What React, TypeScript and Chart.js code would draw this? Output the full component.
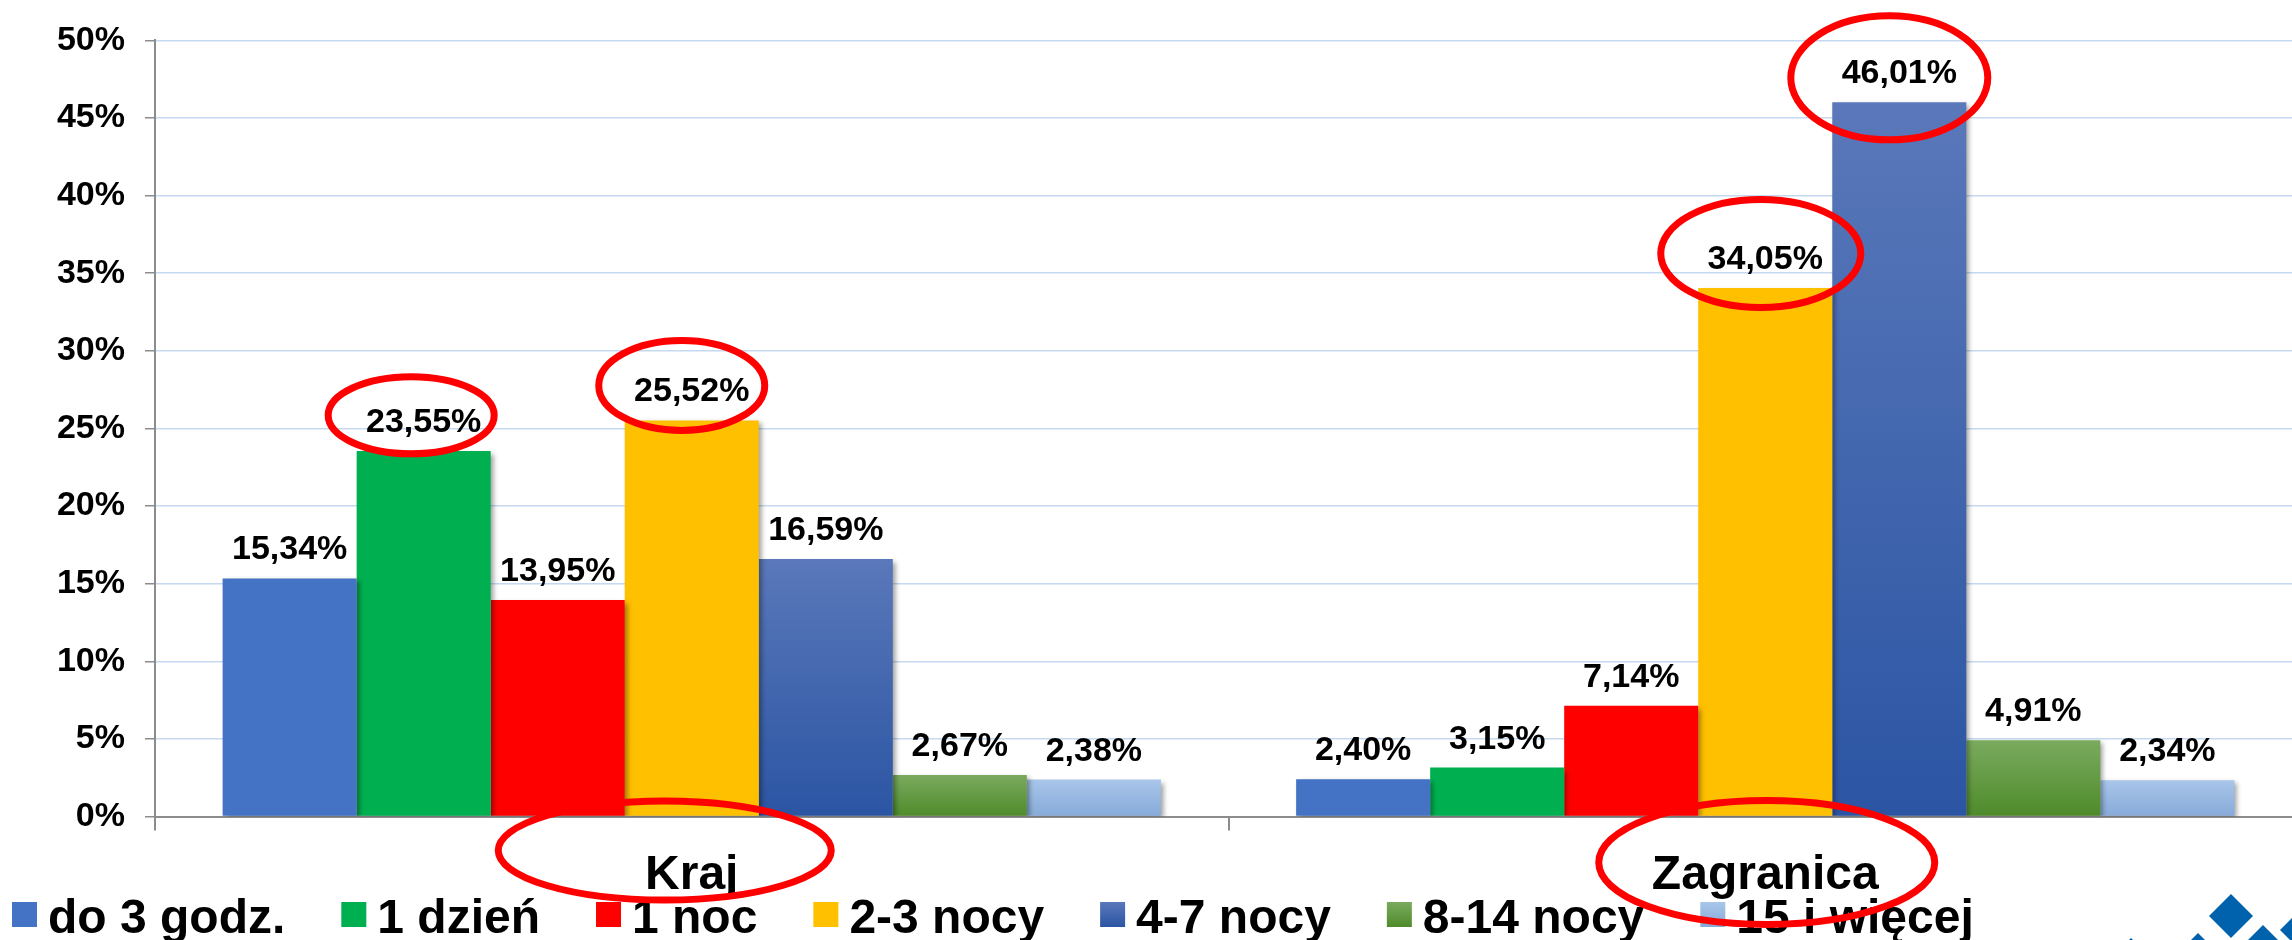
import React, { useEffect, useRef } from "react";
import { Chart, registerables } from "chart.js";

Chart.register(...registerables);

// ---------- data ----------
const categories = ["Kraj", "Zagranica"];
const seriesNames = ["do 3 godz.", "1 dzień", "1 noc", "2-3 nocy", "4-7 nocy", "8-14 nocy", "15 i więcej"];
const do3Godz = [15.34, 2.4];
const jedenDzien = [23.55, 3.15];
const jednaNoc = [13.95, 7.14];
const noce2do3 = [25.52, 34.05];
const noce4do7 = [16.59, 46.01];
const noce8do14 = [2.67, 4.91];
const wiecej15 = [2.38, 2.34];
const yTickValues = [0, 5, 10, 15, 20, 25, 30, 35, 40, 45, 50];

const seriesValues = [do3Godz, jedenDzien, jednaNoc, noce2do3, noce4do7, noce8do14, wiecej15];

// ---------- styles ----------
const FONT = '"Liberation Sans", Arial, Helvetica, sans-serif';
const seriesColors: [string, string][] = [
  ["#4472C4", "#4472C4"],
  ["#00B050", "#00B050"],
  ["#FF0000", "#FF0000"],
  ["#FFC000", "#FFC000"],
  ["#5A78BA", "#2B55A3"],
  ["#7AAA5E", "#4E8B2A"],
  ["#A9C6EA", "#86AAD9"],
];

// annotation ellipses (hand-drawn highlights)
const barEllipses = [
  { ds: 1, idx: 0, dx: -12.5, dy: -35.7, w: 173, h: 84 },
  { ds: 3, idx: 0, dx: -10, dy: -35, w: 173, h: 97 },
  { ds: 3, idx: 1, dx: -4.5, dy: -34.5, w: 207, h: 115 },
  { ds: 4, idx: 1, dx: -10, dy: -24.5, w: 204, h: 131 },
];
const catEllipses = [
  { cat: 0, dx: -27, dy: 34, w: 340, h: 106 },
  { cat: 1, dx: 1.5, dy: 46, w: 343, h: 131 },
];

const fmt = (v: number) => v.toFixed(2).replace(".", ",") + "%";

const makeBg = (top: string, bottom: string) => (c: any) => {
  if (top === bottom) return top;
  const chart = c.chart;
  const { chartArea, scales } = chart;
  if (!chartArea || !scales || !scales.y || c.raw === undefined) return bottom;
  const v = typeof c.raw === "number" ? c.raw : 0;
  const yT = scales.y.getPixelForValue(v);
  const yB = scales.y.getPixelForValue(0);
  if (!isFinite(yT) || !isFinite(yB) || yT === yB) return bottom;
  const g = chart.ctx.createLinearGradient(0, yT, 0, yB);
  g.addColorStop(0, top);
  g.addColorStop(1, bottom);
  return g;
};

const decorPlugin = {
  id: "decor",
  beforeDatasetsDraw(chart: any) {
    const ctx = chart.ctx;
    ctx.save();
    ctx.shadowColor = "rgba(0,0,0,0.38)";
    ctx.shadowBlur = 5;
    ctx.shadowOffsetX = 3;
    ctx.shadowOffsetY = 3;
  },
  afterDatasetsDraw(chart: any) {
    const ctx = chart.ctx;
    ctx.restore();
    ctx.save();
    ctx.font = `bold 34px ${FONT}`;
    ctx.fillStyle = "#000";
    ctx.textAlign = "center";
    ctx.textBaseline = "alphabetic";
    chart.data.datasets.forEach((ds: any, di: number) => {
      const meta = chart.getDatasetMeta(di);
      meta.data.forEach((bar: any, i: number) => {
        ctx.fillText(fmt(ds.data[i]), bar.x, bar.y - 19);
      });
    });
    ctx.restore();
  },
  afterDraw(chart: any) {
    const ctx = chart.ctx;
    // legend
    ctx.save();
    ctx.font = `bold 48px ${FONT}`;
    ctx.textAlign = "left";
    ctx.textBaseline = "alphabetic";
    let x = 12;
    const boxY = 902;
    chart.data.datasets.forEach((ds: any, di: number) => {
      const [top, bottom] = seriesColors[di];
      if (top === bottom) ctx.fillStyle = top;
      else {
        const g = ctx.createLinearGradient(0, boxY, 0, boxY + 25);
        g.addColorStop(0, top);
        g.addColorStop(1, bottom);
        ctx.fillStyle = g;
      }
      ctx.fillRect(x, boxY, 25, 25);
      ctx.fillStyle = "#000";
      ctx.fillText(ds.label, x + 36, 933);
      x += 36 + ctx.measureText(ds.label).width + 56;
    });
    ctx.restore();

    // red highlight ellipses
    ctx.save();
    ctx.strokeStyle = "#FF0000";
    ctx.lineWidth = 7;
    barEllipses.forEach((e) => {
      const bar = chart.getDatasetMeta(e.ds).data[e.idx];
      if (!bar) return;
      ctx.beginPath();
      ctx.ellipse(bar.x + e.dx, bar.y + e.dy, e.w / 2 - 3.5, e.h / 2 - 3.5, 0, 0, Math.PI * 2);
      ctx.stroke();
    });
    const xs = chart.scales.x;
    catEllipses.forEach((e) => {
      const cx = xs.getPixelForValue(e.cat) + e.dx;
      const cy = chart.chartArea.bottom + e.dy;
      ctx.beginPath();
      ctx.ellipse(cx, cy, e.w / 2 - 3.5, e.h / 2 - 3.5, 0, 0, Math.PI * 2);
      ctx.stroke();
    });
    ctx.restore();

    // logo fragment (bottom right)
    ctx.save();
    ctx.fillStyle = "#0062AD";
    const diamond = (cx: number, cy: number, r: number) => {
      ctx.beginPath();
      ctx.moveTo(cx, cy - r);
      ctx.lineTo(cx + r, cy);
      ctx.lineTo(cx, cy + r);
      ctx.lineTo(cx - r, cy);
      ctx.closePath();
      ctx.fill();
    };
    diamond(2231, 916, 22);
    diamond(2263, 947, 22);
    diamond(2300, 930, 20);
    diamond(2198, 955, 22);
    diamond(2131, 960, 22);
    ctx.restore();
  },
};

export default function App() {
  const canvasRef = useRef<HTMLCanvasElement | null>(null);

  useEffect(() => {
    if (!canvasRef.current) return;
    Chart.defaults.font.family = FONT;
    const chart = new Chart(canvasRef.current, {
      type: "bar",
      data: {
        labels: categories,
        datasets: seriesNames.map((name, i) => ({
          label: name,
          data: seriesValues[i],
          backgroundColor: makeBg(seriesColors[i][0], seriesColors[i][1]),
          borderWidth: 0,
          categoryPercentage: 0.874,
          barPercentage: 1.0,
        })),
      },
      options: {
        responsive: false,
        animation: false,
        devicePixelRatio: 1,
        layout: { padding: { top: 40, left: 0, right: 0, bottom: 0 } },
        plugins: {
          legend: { display: false },
          tooltip: { enabled: false },
          title: { display: false },
        },
        scales: {
          x: {
            offset: true,
            grid: {
              display: true,
              offset: true,
              drawOnChartArea: false,
              drawTicks: true,
              tickLength: 14,
              color: "#8C8C8C",
              lineWidth: 2,
            },
            border: { display: true, color: "#8C8C8C", width: 2 },
            ticks: {
              color: "#000",
              padding: 16,
              font: { size: 48, weight: "bold", family: FONT },
            },
            afterFit: (scale: any) => {
              scale.height = 123.5;
            },
          },
          y: {
            min: 0,
            max: 50,
            afterBuildTicks: (scale: any) => {
              scale.ticks = yTickValues.map((v) => ({ value: v }));
            },
            ticks: {
              color: "#000",
              padding: 20,
              font: { size: 34, weight: "bold", family: FONT },
              callback: (v: any) => v + "%",
            },
            grid: {
              color: "#C6D9F0",
              tickColor: "#8C8C8C",
              tickLength: 10,
              lineWidth: 1.5,
            },
            border: { display: true, color: "#8C8C8C", width: 2 },
            afterFit: (scale: any) => {
              scale.width = 155;
            },
          },
        },
      },
      plugins: [decorPlugin],
    } as any);
    return () => chart.destroy();
  }, []);

  return (
    <div style={{ position: "fixed", left: 0, top: 0, width: 2302, height: 940, background: "#fff", overflow: "hidden" }}>
      <canvas ref={canvasRef} width={2302} height={940} style={{ display: "block" }} />
    </div>
  );
}
